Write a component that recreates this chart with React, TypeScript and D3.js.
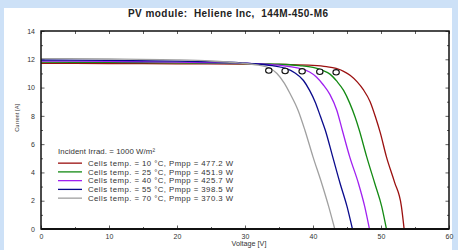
import { useEffect, useRef } from 'react';
import * as d3 from 'd3';

type Pt = [number, number];

const title = 'PV module:  Heliene Inc,  144M-450-M6';
const xLabel = 'Voltage [V]';
const yLabel = 'Current [A]';
const irradLabel = 'Incident Irrad. = 1000 W/m²';

const temps = [10, 25, 40, 55, 70];
const pmpp = [477.2, 451.9, 425.7, 398.5, 370.3];
const colors = ['#9b1010', '#138a13', '#a020f0', '#0a0a8c', '#a0a0a0'];

// I-V curves (voltage V, current A)
const curve10: Pt[] = [
  [0, 11.72], [10, 11.7], [20, 11.68], [30, 11.66], [36, 11.63], [40, 11.57], [42, 11.48],
  [43.4, 11.35], [44.5, 11.15], [45.5, 10.85], [46.5, 10.4], [47.4, 9.85], [48.4, 9.0],
  [49.2, 7.9], [49.9, 6.8], [50.8, 5.1], [52.0, 3.3], [53.0, 1.6], [53.4, 0],
];
const curve25: Pt[] = [
  [0, 11.8], [10, 11.78], [20, 11.75], [30, 11.7], [35, 11.65], [38, 11.55], [40, 11.42],
  [41.5, 11.2], [42.5, 10.95], [43.5, 10.45], [44.5, 9.8], [45.4, 8.9], [46.2, 7.9],
  [46.8, 7.0], [47.9, 5.1], [49.1, 3.2], [50.1, 1.6], [50.8, 0],
];
const curve40: Pt[] = [
  [0, 11.87], [10, 11.85], [20, 11.8], [28, 11.74], [33, 11.65], [36, 11.52], [38, 11.35],
  [39.5, 11.1], [40.5, 10.75], [41.5, 10.2], [42.5, 9.5], [43.5, 8.4], [44.3, 7.0],
  [45.4, 5.1], [46.7, 3.2], [47.6, 1.6], [48.3, 0],
];
const curve55: Pt[] = [
  [0, 11.95], [10, 11.92], [20, 11.87], [27, 11.8], [31, 11.7], [34, 11.55], [36, 11.35],
  [37.3, 11.05], [38.6, 10.5], [39.5, 9.8], [40.3, 9.0], [41.1, 7.95], [41.8, 7.0],
  [42.9, 5.1], [44.0, 3.2], [45.0, 1.6], [45.8, 0],
];
const curve70: Pt[] = [
  [0, 12.05], [10, 12.02], [20, 11.96], [25, 11.88], [29, 11.75], [32, 11.58], [33.5, 11.4],
  [34.7, 11.0], [35.8, 10.3], [36.6, 9.6], [37.8, 8.4], [38.8, 7.0], [40.0, 5.1],
  [41.3, 3.2], [42.3, 1.6], [43.2, 0],
];
const curves = [curve10, curve25, curve40, curve55, curve70];

// maximum power points (circles)
const mppV = [43.4, 41.0, 38.4, 35.9, 33.5];
const mppI = [11.08, 11.12, 11.15, 11.17, 11.2];

const xTicks = [0, 10, 20, 30, 40, 50, 60];
const yTicks = [0, 2, 4, 6, 8, 10, 12, 14];

export default function App() {
  const ref = useRef<SVGSVGElement | null>(null);

  useEffect(() => {
    if (!ref.current) return;
    const width = 458;
    const height = 250;
    const margin = { top: 31, right: 9, bottom: 21, left: 41 };
    const innerWidth = width - margin.left - margin.right;
    const innerHeight = height - margin.top - margin.bottom;
    const font = '"Liberation Sans", Arial, sans-serif';

    const root = d3.select(ref.current);
    root.selectAll('*').remove();
    root.attr('width', width).attr('height', height);

    root.append('rect').attr('width', width).attr('height', height).attr('fill', '#cde1f7');
    root.append('rect').attr('x', 4).attr('y', 8).attr('width', 448).attr('height', 242).attr('fill', '#fff');

    root
      .append('text')
      .attr('x', 228)
      .attr('y', 17)
      .attr('text-anchor', 'middle')
      .attr('font-family', font)
      .attr('font-weight', 'bold')
      .attr('font-size', 10)
      .attr('textLength', 200)
      .attr('lengthAdjust', 'spacing')
      .attr('fill', '#222')
      .style('white-space', 'pre')
      .text(title);

    const svg = root.append('g').attr('transform', `translate(${margin.left},${margin.top})`);

    const x = d3.scaleLinear().domain([0, 60]).range([0, innerWidth]);
    const y = d3.scaleLinear().domain([0, 14]).range([innerHeight, 0]);

    // inward ticks on all four sides
    const axisStyle = (g: d3.Selection<SVGGElement, unknown, null, undefined>) => {
      g.select('.domain').remove();
      g.selectAll('line').attr('stroke', '#333').attr('stroke-width', 0.8);
      g.selectAll('text').attr('font-family', font).attr('font-size', 7).attr('fill', '#333');
    };

    svg
      .append('g')
      .attr('transform', `translate(0,${innerHeight})`)
      .call(d3.axisBottom(x).tickValues(xTicks).tickSize(-3.5).tickPadding(5).tickFormat(d3.format('d')))
      .call(axisStyle);
    svg
      .append('g')
      .attr('transform', `translate(0,${innerHeight})`)
      .call(d3.axisBottom(x).tickValues(d3.range(5, 60, 10)).tickSize(-2).tickFormat(() => ''))
      .call(axisStyle);
    svg
      .append('g')
      .call(d3.axisTop(x).tickValues(d3.range(0, 61, 5)).tickSize(-3).tickFormat(() => ''))
      .call(axisStyle);

    svg
      .append('g')
      .call(d3.axisLeft(y).tickValues(yTicks).tickSize(-3.5).tickPadding(6).tickFormat(d3.format('d')))
      .call(axisStyle);
    svg
      .append('g')
      .call(d3.axisLeft(y).tickValues(d3.range(1, 14, 2)).tickSize(-2).tickFormat(() => ''))
      .call(axisStyle);
    svg
      .append('g')
      .attr('transform', `translate(${innerWidth},0)`)
      .call(d3.axisRight(y).tickValues(yTicks).tickSize(-3.5).tickFormat(() => ''))
      .call(axisStyle);
    svg
      .append('g')
      .attr('transform', `translate(${innerWidth},0)`)
      .call(d3.axisRight(y).tickValues(d3.range(1, 14, 2)).tickSize(-2).tickFormat(() => ''))
      .call(axisStyle);

    const line = d3
      .line<Pt>()
      .x(d => x(d[0]))
      .y(d => y(d[1]))
      .curve(d3.curveMonotoneX);

    curves.forEach((c, i) => {
      svg
        .append('path')
        .datum(c)
        .attr('fill', 'none')
        .attr('stroke', colors[i])
        .attr('stroke-width', 1.3)
        .attr('d', line);
    });

    mppV.forEach((v, i) => {
      svg
        .append('ellipse')
        .attr('cx', x(v))
        .attr('cy', y(mppI[i]))
        .attr('rx', 3.2)
        .attr('ry', 2.7)
        .attr('fill', '#fff')
        .attr('stroke', '#111')
        .attr('stroke-width', 1.1);
    });

    // frame
    svg
      .append('rect')
      .attr('width', innerWidth)
      .attr('height', innerHeight)
      .attr('fill', 'none')
      .attr('stroke', '#111')
      .attr('stroke-width', 1.5);
    svg
      .append('line')
      .attr('x1', 0)
      .attr('x2', innerWidth)
      .attr('y1', innerHeight)
      .attr('y2', innerHeight)
      .attr('stroke', '#111')
      .attr('stroke-width', 2);

    // legend
    const lg = svg
      .append('g')
      .attr('font-family', font)
      .attr('font-size', 7.8)
      .attr('fill', '#333')
      .style('white-space', 'pre');
    lg.append('text')
      .attr('x', 17)
      .attr('y', y(6) + 10.3)
      .attr('textLength', 97)
      .attr('lengthAdjust', 'spacing')
      .text(irradLabel);
    temps.forEach((t, i) => {
      const ly = y(6) + 19 + i * 8.75;
      lg.append('line')
        .attr('x1', 17)
        .attr('x2', 41)
        .attr('y1', ly)
        .attr('y2', ly)
        .attr('stroke', colors[i])
        .attr('stroke-width', 1.3);
      lg.append('text')
        .attr('x', 47)
        .attr('y', ly + 2.7)
        .attr('textLength', 145)
        .attr('lengthAdjust', 'spacing')
        .text(`Cells temp. = ${t} °C,  Pmpp = ${pmpp[i].toFixed(1)} W`);
    });

    svg
      .append('text')
      .attr('x', innerWidth / 2 + 4)
      .attr('y', innerHeight + 17)
      .attr('text-anchor', 'middle')
      .attr('font-family', font)
      .attr('font-size', 7.2)
      .attr('fill', '#333')
      .text(xLabel);

    svg
      .append('text')
      .attr('transform', `translate(-22,${y(8) + 2}) rotate(-90)`)
      .attr('text-anchor', 'middle')
      .attr('font-family', font)
      .attr('font-size', 6)
      .attr('textLength', 28)
      .attr('lengthAdjust', 'spacingAndGlyphs')
      .attr('fill', '#333')
      .text(yLabel);
  }, []);

  return <svg ref={ref} style={{ position: 'absolute', left: 0, top: 0, display: 'block' }} />;
}
